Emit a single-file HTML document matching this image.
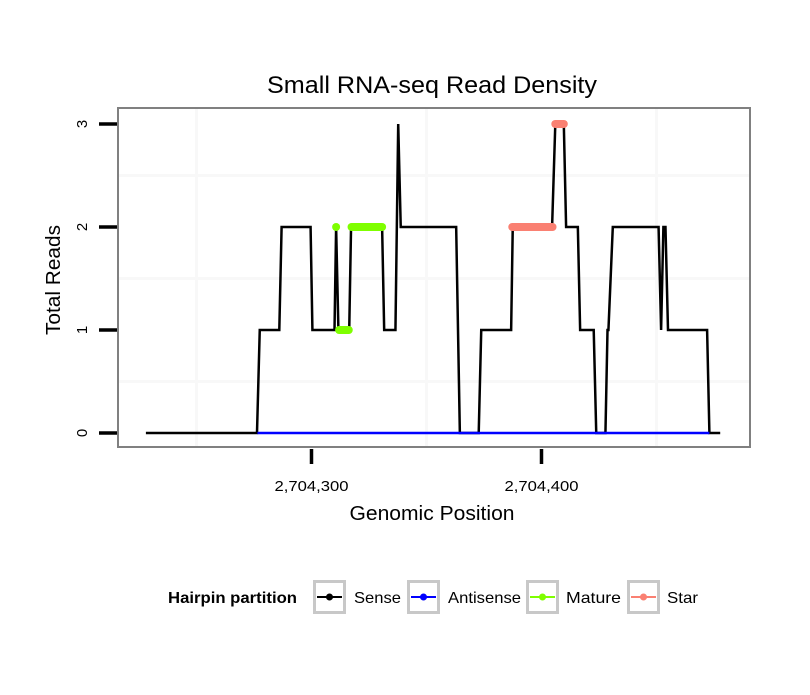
<!DOCTYPE html>
<html><head><meta charset="utf-8"><style>
body{margin:0;background:#fff;}
svg text{font-family:"Liberation Sans",Arial,sans-serif;}
</style></head><body>
<svg id="chart" width="810" height="690" xmlns="http://www.w3.org/2000/svg">
<rect width="810" height="690" fill="#fff"/>
<text x="432" y="93" font-size="24" text-anchor="middle" textLength="330" lengthAdjust="spacingAndGlyphs">Small RNA-seq Read Density</text>
<g id="grid"></g>
<g id="series"></g>
<rect x="118" y="108" width="632" height="339" fill="none" stroke="#808080" stroke-width="2"/>
<g id="axes"></g>
<text transform="translate(60,280) rotate(-90)" font-size="20" text-anchor="middle" textLength="110" lengthAdjust="spacingAndGlyphs">Total Reads</text>
<text x="432" y="520" font-size="20" text-anchor="middle" textLength="165" lengthAdjust="spacingAndGlyphs">Genomic Position</text>
<g id="legend"></g>
</svg>
<script>
const xTicks = [2704300, 2704400];
const xTickLabels = ["2,704,300", "2,704,400"];
const xMinor = [2704250, 2704350, 2704450];
const yTicks = [0, 1, 2, 3];
const yMinor = [0.5, 1.5, 2.5];
const sensePos = [2704228,2704276.3,2704277.5,2704286,2704287,2704299.6,2704300.4,2704310,2704310.7,2704311.7,2704316.4,2704317.2,2704330.7,2704331.6,2704336.5,2704337.7,2704338.8,2704362.9,2704364.5,2704372.7,2704373.8,2704386.8,2704387.5,2704404.6,2704406,2704409.7,2704410.7,2704415.8,2704416.8,2704422.7,2704423.8,2704427.8,2704428.7,2704429.1,2704431,2704450.9,2704452,2704453,2704453.9,2704455,2704472,2704473,2704477.7];
const senseVal = [0,0,1,1,2,2,1,1,2,1,1,2,2,1,1,3,2,2,0,0,1,1,2,2,3,3,2,2,1,1,0,0,1,1,2,2,1,2,2,1,1,0,0];
const antisensePos = [2704276.5, 2704473];
const antisenseVal = [0, 0];
const matureSegs = [[2704310.7,2704310.7,2],[2704312,2704316.2,1],[2704317.4,2704330.7,2]];
const starSegs = [[2704387.3,2704404.8,2],[2704406,2704409.7,3]];

const NS="http://www.w3.org/2000/svg";
const X0=311.5, XS=2.3, Y0=433, YS=103;
const px=v=>X0+(v-2704300)*XS;
const py=v=>Y0-v*YS;
function mk(tag,attrs,parent){const e=document.createElementNS(NS,tag);for(const k in attrs)e.setAttribute(k,attrs[k]);parent.appendChild(e);return e;}
const grid=document.getElementById('grid'),series=document.getElementById('series'),axes=document.getElementById('axes'),legend=document.getElementById('legend');
mk('rect',{x:118,y:108,width:632,height:339,fill:'#fff'},grid);
xMinor.forEach(v=>{const l=mk('line',{x1:px(v),x2:px(v),y1:109,y2:446,stroke:'#f8f8f8','stroke-width':3},grid);

});
yMinor.forEach(v=>{const l=mk('line',{x1:119,x2:749,y1:py(v),y2:py(v),stroke:'#f8f8f8','stroke-width':3},grid);

});
function poly(xs,ys,color,name){const pts=xs.map((x,i)=>px(x)+','+py(ys[i])).join(' ');const p=mk('polyline',{points:pts,fill:'none',stroke:color,'stroke-width':2.5,'stroke-linejoin':'miter'},series);

}
poly(sensePos,senseVal,'#000','sense-line');
poly(antisensePos,antisenseVal,'#0000ff','antisense-line');
function segs(arr,color,name){arr.forEach(s=>{const l=mk('line',{x1:px(s[0]),x2:px(s[1]),y1:py(s[2]),y2:py(s[2]),stroke:color,'stroke-width':8,'stroke-linecap':'round'},series);

});}
segs(matureSegs,'#7fff00','mature-segment');
segs(starSegs,'#fa8072','star-segment');
yTicks.forEach(v=>{const t=mk('line',{x1:99,x2:117,y1:py(v),y2:py(v),stroke:'#000','stroke-width':3.5},axes);


const tx=mk('text',{transform:`translate(87,${py(v)}) rotate(-90)`,'font-size':15,'text-anchor':'middle'},axes);tx.textContent=v;

});
xTicks.forEach((v,i)=>{const t=mk('line',{x1:px(v),x2:px(v),y1:449,y2:464,stroke:'#000','stroke-width':3.5},axes);


const tx=mk('text',{x:px(v),y:491,'font-size':15,'text-anchor':'middle',textLength:74,lengthAdjust:'spacingAndGlyphs'},axes);tx.textContent=xTickLabels[i];

});
const lt=mk('text',{x:168,y:603,'font-size':16,'font-weight':'bold',textLength:129,lengthAdjust:'spacingAndGlyphs'},legend);lt.textContent='Hairpin partition';


const legItems=[['Sense','#000',313,354,47],['Antisense','#0000ff',407,448,73],['Mature','#7fff00',526,566,55],['Star','#fa8072',627,667,31]];
legItems.forEach(it=>{const g=mk('g',{},legend);


mk('rect',{x:it[2]+1.5,y:581.5,width:30,height:31,fill:'#fff',stroke:'#c8c8c8','stroke-width':3},g);
mk('line',{x1:it[2]+4,x2:it[2]+29,y1:597,y2:597,stroke:it[1],'stroke-width':2},g);
mk('circle',{cx:it[2]+16.5,cy:597,r:3.5,fill:it[1]},g);
const t=mk('text',{x:it[3],y:603,'font-size':16,textLength:it[4],lengthAdjust:'spacingAndGlyphs'},g);t.textContent=it[0];});
</script>
</body></html>
